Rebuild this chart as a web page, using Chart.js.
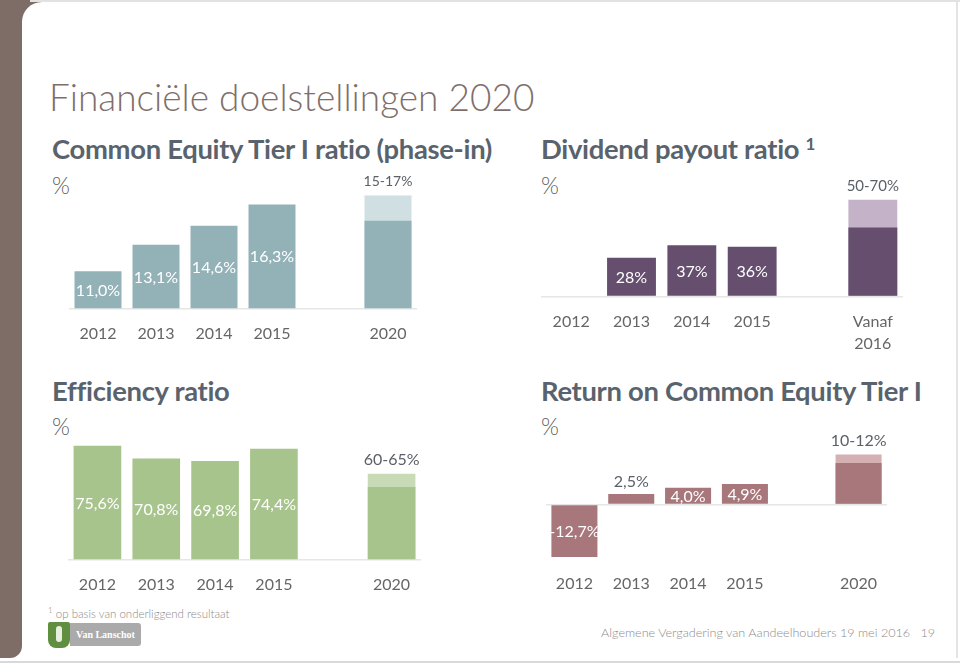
<!DOCTYPE html>
<html>
<head>
<meta charset="utf-8">
<script src="https://cdn.jsdelivr.net/npm/chart.js@4.4.1/dist/chart.umd.min.js"></script>
<style>
    body { margin: 0; width: 960px; height: 665px; position: relative; overflow: hidden; background: #fff; font-family: Lato, 'Open Sans', sans-serif; }
    .abs { position: absolute; white-space: nowrap; line-height: 1; }
    .strip { left: 0; top: 0; width: 22px; height: 658px; background: #7e6c66; border-bottom-right-radius: 12px; }
    .corner { left: 20px; top: 0; width: 30px; height: 30px; background: #7e6c66; }
    .card { left: 22px; top: 2px; width: 934px; height: 656px; background: #fff; border-top-left-radius: 20px; border-right: 2px solid #e4e4e4; }
    .topline { left: 30px; top: 0; width: 930px; height: 2px; background: #e2e2e2; }
    .bottomline { left: 0; top: 661px; width: 960px; height: 2px; background: #d9d9d9; }
    .title { left: 49px; top: 78px; font-size: 37px; font-weight: 300; color: #7f6f6b; }
    .head { font-size: 27.4px; font-weight: 700; color: #59636d; letter-spacing: -0.3px; }
    .unit { font-size: 23px; font-weight: 300; color: #5f5f5f; }
    .note { left: 48px; top: 606px; font-size: 11.5px; font-weight: 300; color: #8a8a8a; }
    .footer { right: 25px; top: 627px; font-size: 12.6px; font-weight: 300; color: #8c8c8c; }
    .shield { left: 48px; top: 622px; width: 22px; height: 26px; background: #5f8f3f; border-radius: 2px 2px 8px 8px; }
    .shield span { position: absolute; left: 8px; top: 4px; width: 6px; height: 16px; background: #e8efe0; border-radius: 3px; }
    .brand { left: 70px; top: 623px; width: 71px; height: 23px; background: #aaaaaa; border-radius: 0 3px 3px 0; color: #fff; font: bold 10px 'Liberation Serif', serif; line-height: 23px; text-align: center; }
    .panel { position: absolute; }
</style>
</head>
<body>
<div class="abs strip"></div>
<div class="abs corner"></div>
<div class="abs card"></div>
<div class="abs topline"></div>
<div class="abs bottomline"></div>

<div class="abs title">Financiële doelstellingen 2020</div>

<div class="abs head" style="left:52px; top:135px;">Common Equity Tier I ratio (phase-in)</div>
<div class="abs unit" style="left:52px; top:174px;">%</div>
<div class="abs head" style="left:541px; top:135px;">Dividend payout ratio <span style="font-size:17px; vertical-align:9px;">1</span></div>
<div class="abs unit" style="left:541px; top:174px;">%</div>
<div class="abs head" style="left:52px; top:377px;">Efficiency ratio</div>
<div class="abs unit" style="left:52px; top:415px;">%</div>
<div class="abs head" style="left:541px; top:377px;">Return on Common Equity Tier I</div>
<div class="abs unit" style="left:541px; top:415px;">%</div>

<div class="abs note"><sup style="font-size:8px;">1</sup> op basis van onderliggend resultaat</div>
<div class="abs shield"><span></span></div>
<div class="abs brand">Van Lanschot</div>
<div class="abs footer">Algemene Vergadering van Aandeelhouders 19 mei 2016&nbsp;&nbsp;&nbsp;19</div>

<script>
const years = ['2012', '2013', '2014', '2015', '', '2020'];
const payoutYears = ['2012', '2013', '2014', '2015', '', ['Vanaf', '2016']];

// dark bar = realised value, or lower bound of the 2020 target
const cet1Values = [11.0, 13.1, 14.6, 16.3, null, 15];
const cet1Target = [null, null, null, null, null, 17];

const payoutValues = [null, 28, 37, 36, null, 50];
const payoutTarget = [null, null, null, null, null, 70];

const efficiencyValues = [75.6, 70.8, 69.8, 74.4, null, 60];
const efficiencyTarget = [null, null, null, null, null, 65];

const returnValues = [-12.7, 2.5, 4.0, 4.9, null, 10];
const returnTarget = [null, null, null, null, null, 12];

const valueLabels = {
    id: 'valueLabels',
    afterDatasetsDraw(chart, args, opts) {
        const ctx = chart.ctx;
        const low = chart.getDatasetMeta(0);
        const high = chart.getDatasetMeta(1);
        const targets = chart.data.datasets[1].data;
        ctx.save();
        ctx.textAlign = 'center';
        ctx.textBaseline = 'middle';
        chart.data.datasets[0].data.forEach(function(v, i) {
            if (v === null) return;
            if (targets[i] !== null) {
                const bar = high.data[i];
                ctx.font = opts.rangeSize + 'px Lato';
                ctx.fillStyle = '#5b6169';
                ctx.fillText(v + '-' + targets[i] + '%', bar.x, bar.y - 14);
                return;
            }
            const bar = low.data[i];
            const top = Math.min(bar.y, bar.base);
            const bottom = Math.max(bar.y, bar.base);
            const text = v.toFixed(opts.decimals).replace('.', ',') + '%';
            ctx.font = '16px Lato';
            if (bottom - top < 12) {
                ctx.fillStyle = '#5b6169';
                ctx.fillText(text, bar.x, top - 12);
            } else {
                ctx.fillStyle = '#ffffff';
                ctx.fillText(text, bar.x, (top + bottom) / 2 + 1);
            }
        });
        ctx.restore();
    }
};

const panels = [
    { labels: years, values: cet1Values, target: cet1Target, decimals: 1, rangeSize: 14,
      color: '#93b2b8', light: '#d0dfe2', min: 8, max: 18, base: 8,
      area: { left: 68.5, right: 416.5, top: 183, bottom: 309 }, tickPad: 14, lines: 1 },
    { labels: payoutYears, values: payoutValues, target: payoutTarget, decimals: 0, rangeSize: 15,
      color: '#664e6f', light: '#c3b2c8', min: 0, max: 80, base: 0,
      area: { left: 540.6, right: 902.4, top: 186.3, bottom: 296.7 }, tickPad: 14, lines: 2 },
    { labels: years, values: efficiencyValues, target: efficiencyTarget, decimals: 1, rangeSize: 16,
      color: '#a8c48d', light: '#c9dbb6', min: 32.5, max: 80, base: 32.5,
      area: { left: 68.4, right: 421, top: 434, bottom: 560 }, tickPad: 14, lines: 1 },
    { labels: years, values: returnValues, target: returnTarget, decimals: 1, rangeSize: 16,
      color: '#a7777b', light: '#d5b0b3', min: -14, max: 16, base: 0,
      area: { left: 545.7, right: 887, top: 437.6, bottom: 562.1 }, tickPad: 10, lines: 1 }
];

function makeChart(p) {
    const pad = { left: 20, right: 20, top: 40, bottom: 40 };
    const axisH = p.tickPad + p.lines * 23;
    const w = Math.round(p.area.right - p.area.left + pad.left + pad.right);
    const h = Math.round(p.area.bottom - p.area.top + pad.top + pad.bottom + axisH);
    const box = document.createElement('div');
    box.className = 'panel';
    box.style.left = (p.area.left - pad.left) + 'px';
    box.style.top = (p.area.top - pad.top) + 'px';
    const canvas = document.createElement('canvas');
    canvas.width = w;
    canvas.height = h;
    box.appendChild(canvas);
    document.body.appendChild(box);

    const bar = { grouped: false, barPercentage: 0.81, categoryPercentage: 1, base: p.base, borderWidth: 0 };
    const chart = new Chart(canvas, {
        type: 'bar',
        data: {
            labels: p.labels,
            datasets: [
                Object.assign({ data: p.values, backgroundColor: p.color }, bar),
                Object.assign({ data: p.target, backgroundColor: p.light }, bar)
            ]
        },
        options: {
            responsive: false,
            maintainAspectRatio: false,
            animation: false,
            devicePixelRatio: 1,
            layout: { padding: Object.assign({}, pad) },
            plugins: {
                legend: { display: false },
                tooltip: { enabled: false },
                valueLabels: { decimals: p.decimals, rangeSize: p.rangeSize }
            },
            scales: {
                x: {
                    grid: { display: false, drawTicks: false },
                    border: { display: false },
                    ticks: {
                        padding: p.tickPad,
                        maxRotation: 0,
                        autoSkip: false,
                        color: '#666666',
                        font: { family: 'Lato', size: 16, lineHeight: 1.4 }
                    }
                },
                y: {
                    min: p.min,
                    max: p.max,
                    afterBuildTicks: function(scale) { scale.ticks = [{ value: p.base }]; },
                    grid: { color: '#e6e6e6', lineWidth: 1.5, drawTicks: false },
                    border: { display: false },
                    ticks: { display: false }
                }
            }
        },
        plugins: [valueLabels]
    });

    // nudge bottom padding so the plot area lands where the slide has it
    const wantBottom = pad.top + (p.area.bottom - p.area.top);
    const diff = chart.chartArea.bottom - wantBottom;
    if (Math.abs(diff) > 0.3) {
        chart.options.layout.padding.bottom = pad.bottom + diff;
        chart.update();
    }
    return chart;
}

panels.forEach(makeChart);
</script>
</body>
</html>
